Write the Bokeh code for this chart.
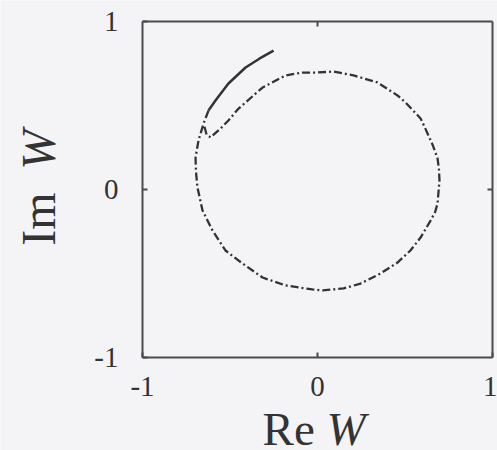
from bokeh.plotting import figure
from bokeh.models import Range1d, LinearAxis, FixedTicker, Label
from bokeh.embed import file_html
from bokeh.resources import INLINE

# Initial solid arc of the trajectory in the complex W plane
arc_re = [-0.251, -0.330, -0.411, -0.509, -0.583, -0.623]
arc_im = [0.827, 0.780, 0.726, 0.631, 0.530, 0.470]

# Orbit that follows (drawn dash-dotted)
orbit_re = [-0.623, -0.651, -0.680, -0.697, -0.694, -0.686, -0.657, -0.600, -0.526,
            -0.429, -0.314, -0.183, -0.029, 0.029, 0.149, 0.246, 0.360,
            0.457, 0.531, 0.589, 0.646, 0.672, 0.686, 0.697, 0.694, 0.686,
            0.657, 0.611, 0.589, 0.503, 0.457, 0.343, 0.206, 0.091, -0.011,
            -0.091, -0.183, -0.314, -0.451, -0.509, -0.554, -0.611, -0.634,
            -0.646]
orbit_im = [0.470, 0.393, 0.292, 0.190, 0.100, 0.012, -0.125, -0.244, -0.363,
            -0.440, -0.524, -0.571, -0.595, -0.601, -0.589, -0.560, -0.500,
            -0.435, -0.363, -0.286, -0.185, -0.135, -0.083, 0.054, 0.120, 0.185,
            0.268, 0.375, 0.423, 0.518, 0.560, 0.637, 0.679, 0.702, 0.696,
            0.696, 0.679, 0.607, 0.482, 0.411, 0.363, 0.310, 0.327,
            0.375]

ticks = [-1, 0, 1]
tick_text = {-1: "-1", 0: "0", 1: "1"}

BG = "#f4f4f6"
INK = "#333333"
FRAME = "#4a4a4a"
SERIF = "'Liberation Serif', 'Times New Roman', serif"

# The frame spans the whole canvas; the [-1, 1] box is drawn by axes pinned
# at fixed data locations, leaving room around it for the axis titles.
W, H = 497, 450
left, right, top, bottom = 142, 5, 21, 93
sx = (W - left - right) / 2.0
sy = (H - top - bottom) / 2.0
x_range = Range1d(-1 - left / sx, 1 + right / sx)
y_range = Range1d(-1 - bottom / sy, 1 + top / sy)

p = figure(width=W, height=H, x_range=x_range, y_range=y_range,
           output_backend="svg", toolbar_location=None,
           min_border_left=0, min_border_right=0, min_border_top=0,
           min_border_bottom=0, x_axis_type=None, y_axis_type=None)
p.background_fill_color = BG
p.border_fill_color = BG
p.outline_line_color = None
p.grid.visible = False


def box_axis(side, loc, labelled):
    ax = LinearAxis(ticker=FixedTicker(ticks=ticks if labelled else [0]),
                    fixed_location=loc, bounds=(-1, 1),
                    major_tick_in=5, major_tick_out=0,
                    major_tick_line_color=FRAME, major_tick_line_width=2,
                    minor_tick_line_color=None,
                    axis_line_color=FRAME, axis_line_width=2)
    if labelled:
        ax.major_label_overrides = tick_text
        ax.major_label_text_font = SERIF
        ax.major_label_text_font_size = "29px"
        ax.major_label_text_color = INK
    else:
        ax.major_label_overrides = {0: ""}
    p.add_layout(ax, side)
    return ax


xb = box_axis("below", -1, True)
xb.major_label_standoff = 19
yl = box_axis("left", -1, True)
yl.major_label_standoff = 24
box_axis("above", 1, False)
box_axis("right", 1, False)

p.line(arc_re, arc_im, line_width=2.5, line_color=INK)
p.line(orbit_re, orbit_im, line_width=2.3, line_color=INK, line_dash="8 3 2 3")

# Axis titles: upright "Re"/"Im" with italic W
common = dict(text_font=SERIF, text_color=INK, text_baseline="alphabetic",
              text_align="left")
p.add_layout(Label(x=-0.314, y=-1.425, text="Re", text_font_size="47px", **common))
p.add_layout(Label(x=0.052, y=-1.425, text="W", text_font_size="47px",
                   text_font_style="italic", **common))
p.add_layout(Label(x=-1.592, y=-0.335, text="Im", text_font_size="48px",
                   angle=1.5708, **common))
p.add_layout(Label(x=-1.592, y=0.118, text="W", text_font_size="48px",
                   text_font_style="italic", angle=1.5708, **common))

open("out.html", "w").write(file_html(p, INLINE))
